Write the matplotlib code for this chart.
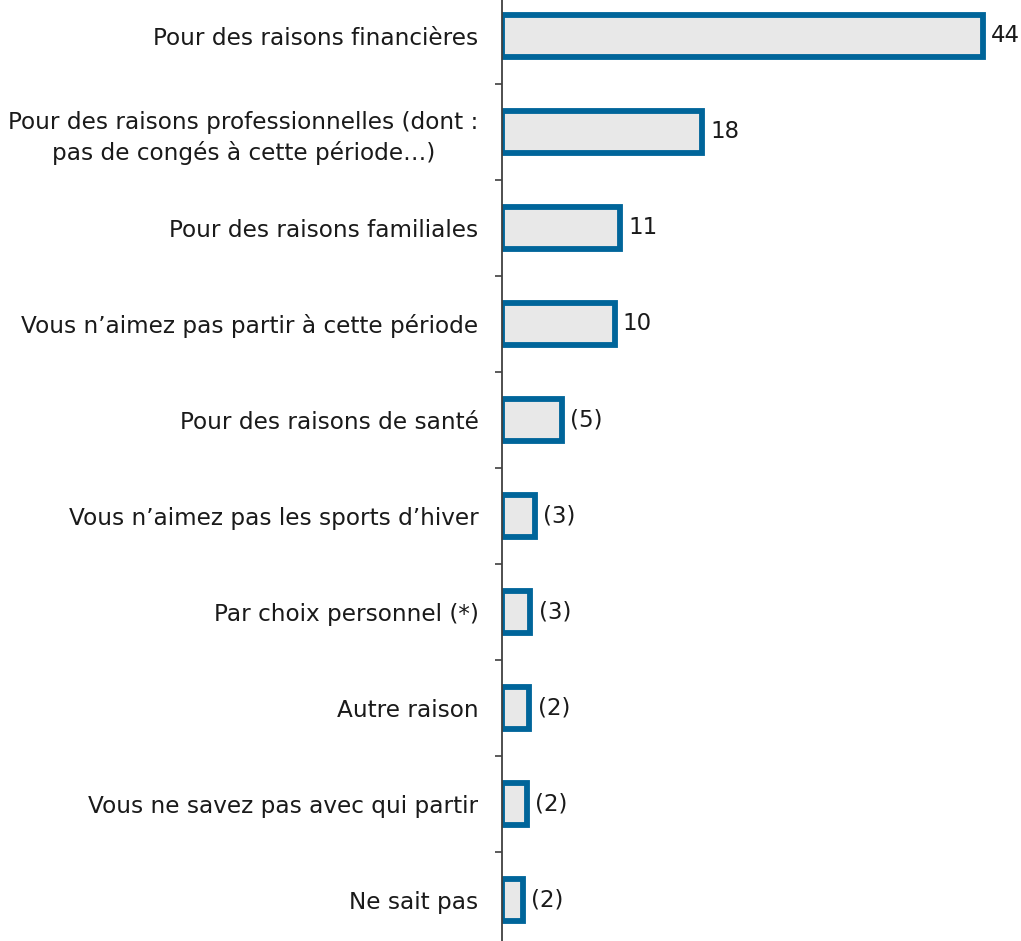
import matplotlib.pyplot as plt
import numpy as np

# raisons de ne pas partir
categories = [
    "Pour des raisons financières",
    "Pour des raisons professionnelles (dont :\npas de congés à cette période…)",
    "Pour des raisons familiales",
    "Vous n\u2019aimez pas partir à cette période",
    "Pour des raisons de santé",
    "Vous n\u2019aimez pas les sports d\u2019hiver",
    "Par choix personnel (*)",
    "Autre raison",
    "Vous ne savez pas avec qui partir",
    "Ne sait pas",
]
values = [44, 18.3, 10.8, 10.3, 5.45, 3.0, 2.6, 2.5, 2.3, 1.9]
value_labels = ["44", "18", "11", "10", "(5)", "(3)", "(3)", "(2)", "(2)", "(2)"]

W, H = 1021, 941
fig = plt.figure(figsize=(W / 100, H / 100), dpi=100)
# axe gauche a x=502, une categorie = 96 px
ax = fig.add_axes([502 / W, -7 / H, 1 - 502 / W, 960 / H])

y = np.arange(len(categories))
ax.barh(y, values, height=0.43, color="#e8e8e8", edgecolor="#00659a", linewidth=4.2)

for yi, v, lab in zip(y, values, value_labels):
    ax.annotate(lab, (v, yi), xytext=(6, 0), textcoords="offset points",
                va="center", ha="left", fontsize=16.5, color="#1a1a1a")

ax.set_xlim(0, 47.5)
ax.set_ylim(len(categories) - 0.5, -0.5)

ax.set_yticks(y)
ax.set_yticklabels(categories, fontsize=16.7, color="#1a1a1a",
                   multialignment="center", linespacing=1.35)
ax.tick_params(axis="y", which="major", length=0, pad=17)
ax.set_yticks(np.arange(0.5, len(categories) - 0.5, 1), minor=True)
ax.tick_params(axis="y", which="minor", length=5, width=1.2, color="#404040", direction="out")

ax.set_xticks([])
for s in ["top", "right", "bottom"]:
    ax.spines[s].set_visible(False)
ax.spines["left"].set_color("#404040")
ax.spines["left"].set_linewidth(1.3)

plt.savefig("out.png", dpi=100)
